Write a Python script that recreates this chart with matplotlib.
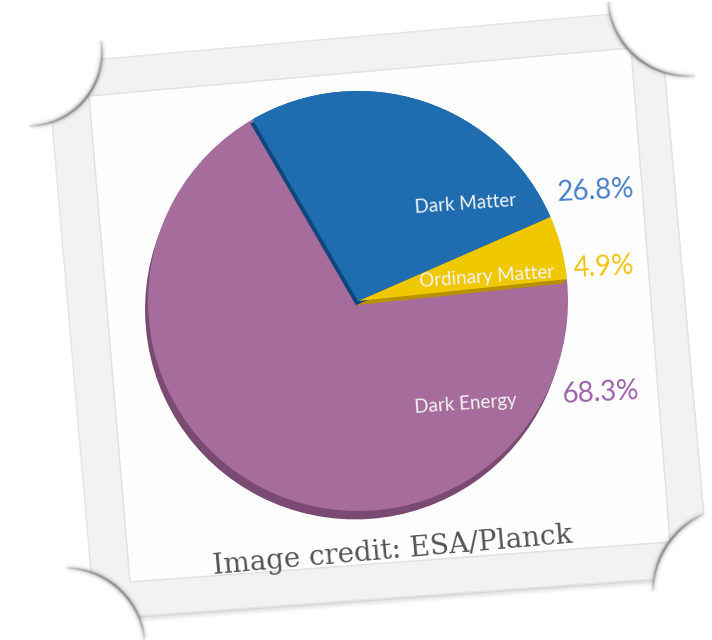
import numpy as np
import matplotlib
matplotlib.use("Agg")
import matplotlib.pyplot as plt
from matplotlib.patches import Polygon, Circle
from matplotlib.collections import LineCollection

#### DATA
labels = ['Ordinary Matter', 'Dark Matter', 'Dark Energy']
shares = [4.9, 26.8, 68.3]
pct_text = ['4.9%', '26.8%', '68.3%']
credit = 'Image credit: ESA/Planck'

#### STYLE
face_cols = ['#f0c800', '#1f6db0', '#a66c9c']
side_cols = ['#b89000', '#10467c', '#7a4a72']
pct_cols = ['#f2c30f', '#4a80c8', '#9c62aa']
start_ang = 6

W, H = 712, 640
fig = plt.figure(figsize=(W / 100, H / 100), dpi=100)
fig.patch.set_facecolor('white')

#### PHOTO FRAME (pixel coords)
ax = fig.add_axes([0, 0, 1, 1])
ax.set_xlim(0, W)
ax.set_ylim(H, 0)
ax.axis('off')

outer = [(47, 64), (659, 10), (709, 575), (95, 619)]
inner = [(89, 96), (631, 48), (670, 542), (130, 582)]

# soft drop shadow under the frame
for k, a in [(6, 0.04), (4, 0.05), (2, 0.07)]:
    sh = [(x + k * 0.3, y + k) for x, y in outer]
    ax.add_patch(Polygon(sh, closed=True, fc='#000000', ec='none', alpha=a, zorder=1))
ax.add_patch(Polygon(outer, closed=True, fc='#f2f2f2', ec='#e4e4e4', lw=1, zorder=2))
ax.add_patch(Polygon(inner, closed=True, fc='#fefefe', ec='#e0e0e0', lw=1, zorder=2))


def curl(cx, cy, r, a0, a1):
    ax.add_patch(Circle((cx, cy), r, fc='white', ec='none', zorder=3))
    t = np.radians(np.linspace(a0, a1, 120))
    pts = np.column_stack([cx + r * np.cos(t), cy + r * np.sin(t)])
    segs = np.stack([pts[:-1], pts[1:]], axis=1)
    fade = np.sin(np.linspace(0, np.pi, len(segs))) ** 0.5
    for lw, a in [(7, 0.05), (4.5, 0.1), (2.6, 0.22), (1.2, 0.45)]:
        cols = np.zeros((len(segs), 4))
        cols[:, :3] = 0.3
        cols[:, 3] = a * fade
        ax.add_collection(LineCollection(segs, colors=cols, linewidths=lw, zorder=4))


curl(28, 52, 74, -10, 90)
curl(688, -4, 80, 84, 177)
curl(738, 592, 85, 180, 247)
curl(65, 648, 80, -90, -5)

#### PIE
cx, cy, R = 358, 301, 210
pax = fig.add_axes([(cx - R) / W, (H - cy - R) / H, 2 * R / W, 2 * R / H])
pax.set_zorder(5)

# outer rim (whole pie, offset down-left)
w, _ = pax.pie(shares, colors=side_cols, startangle=start_ang, center=(-0.014, -0.04),
               wedgeprops=dict(linewidth=0))
w, _ = pax.pie(shares, colors=face_cols, startangle=start_ang,
               wedgeprops=dict(linewidth=0))
# raised slices: their side shows over the big slice
w, _ = pax.pie(shares, colors=side_cols, startangle=start_ang, center=(-0.01, -0.02),
               wedgeprops=dict(linewidth=0))
w[2].set_visible(False)
w, _ = pax.pie(shares, colors=face_cols, startangle=start_ang,
               wedgeprops=dict(linewidth=0))
w[2].set_visible(False)
pax.set_xlim(-1, 1)
pax.set_ylim(-1, 1)
pax.axis('off')

#### TEXT
lab_pos = [(487, 277), (465, 204), (466, 404)]
pct_pos = [(604, 267), (596, 191), (601, 393)]
for s, (x, y) in zip(labels, lab_pos):
    fig.text(x, y, s, transform=ax.transData, ha='center', va='center', rotation=4,
             rotation_mode='anchor', color='#f4f4f4', fontsize=13.5, family='Lato', zorder=10)
for s, c, (x, y) in zip(pct_text, pct_cols, pct_pos):
    fig.text(x, y, s, transform=ax.transData, ha='center', va='center', rotation=3,
             rotation_mode='anchor', color=c, fontsize=20, family='Lato', zorder=10)

fig.text(393, 551, credit, transform=ax.transData, ha='center', va='center', rotation=5,
         rotation_mode='anchor', color='#555555', fontsize=20, family='DejaVu Serif', zorder=10)

fig.savefig('out.png', dpi=100)
